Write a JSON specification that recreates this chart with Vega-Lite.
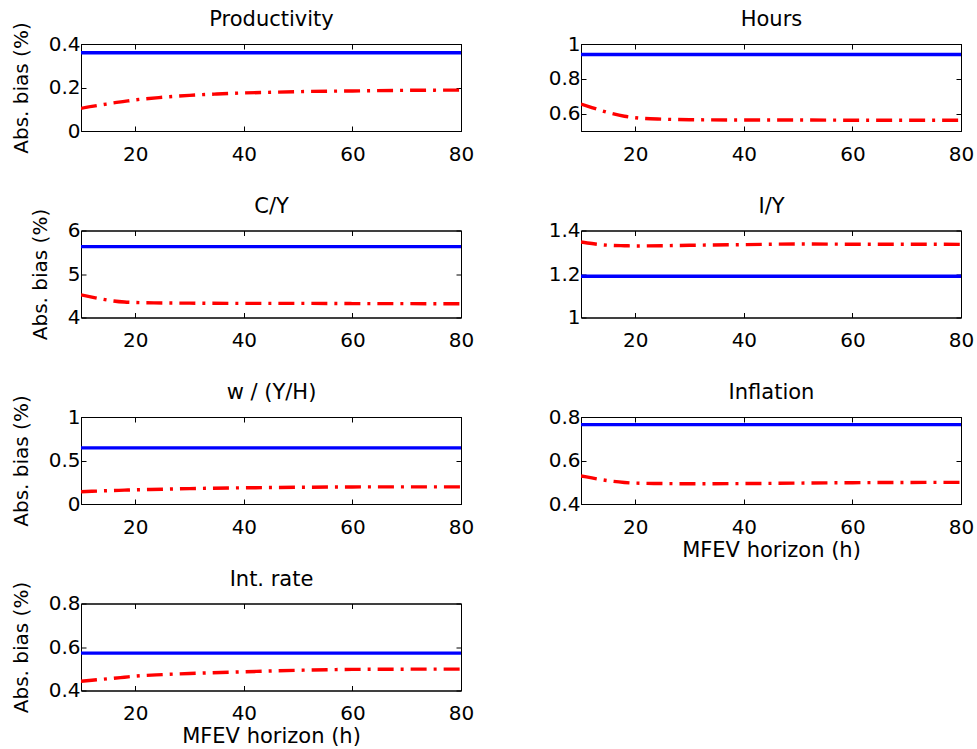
{
  "$schema": "https://vega.github.io/schema/vega-lite/v6.json",
  "background": "white",
  "padding": {"left": 10, "top": 8, "right": 5, "bottom": 5},
  "config": {
    "font": "DejaVu Sans",
    "view": {"stroke": "black", "strokeWidth": 1},
    "axis": {
      "grid": false,
      "labelFont": "DejaVu Sans",
      "labelFontSize": 20,
      "labelColor": "black",
      "titleFont": "DejaVu Sans",
      "titleFontSize": 21,
      "titleFontWeight": "normal",
      "titleColor": "black",
      "domainColor": "black",
      "tickColor": "black",
      "tickSize": -5,
      "labelPadding": 6,
      "labelFlush": false,
      "labelOverlap": false
    },
    "axisLeft": {"titleFontSize": 20, "titlePadding": 17},
    "axisTop": {"titlePadding": 14},
    "axisBottom": {"titlePadding": 2, "labelPadding": 18}
  },
  "data": {"values": [
    {"v": "Productivity", "m": "b", "h": 10, "bias": 0.36},
    {"v": "Productivity", "m": "b", "h": 80, "bias": 0.36},
    {"v": "Productivity", "m": "r", "h": 10, "bias": 0.104},
    {"v": "Productivity", "m": "r", "h": 12, "bias": 0.113},
    {"v": "Productivity", "m": "r", "h": 14, "bias": 0.121},
    {"v": "Productivity", "m": "r", "h": 16, "bias": 0.129},
    {"v": "Productivity", "m": "r", "h": 18, "bias": 0.136},
    {"v": "Productivity", "m": "r", "h": 20, "bias": 0.143},
    {"v": "Productivity", "m": "r", "h": 25, "bias": 0.155},
    {"v": "Productivity", "m": "r", "h": 30, "bias": 0.164},
    {"v": "Productivity", "m": "r", "h": 35, "bias": 0.17},
    {"v": "Productivity", "m": "r", "h": 40, "bias": 0.175},
    {"v": "Productivity", "m": "r", "h": 45, "bias": 0.178},
    {"v": "Productivity", "m": "r", "h": 50, "bias": 0.181},
    {"v": "Productivity", "m": "r", "h": 60, "bias": 0.184},
    {"v": "Productivity", "m": "r", "h": 70, "bias": 0.187},
    {"v": "Productivity", "m": "r", "h": 80, "bias": 0.188},
    {"v": "Hours", "m": "b", "h": 10, "bias": 0.94},
    {"v": "Hours", "m": "b", "h": 80, "bias": 0.94},
    {"v": "Hours", "m": "r", "h": 10, "bias": 0.655},
    {"v": "Hours", "m": "r", "h": 12, "bias": 0.635},
    {"v": "Hours", "m": "r", "h": 14, "bias": 0.615},
    {"v": "Hours", "m": "r", "h": 16, "bias": 0.598},
    {"v": "Hours", "m": "r", "h": 18, "bias": 0.585},
    {"v": "Hours", "m": "r", "h": 20, "bias": 0.576},
    {"v": "Hours", "m": "r", "h": 25, "bias": 0.568},
    {"v": "Hours", "m": "r", "h": 30, "bias": 0.565},
    {"v": "Hours", "m": "r", "h": 40, "bias": 0.563},
    {"v": "Hours", "m": "r", "h": 50, "bias": 0.563},
    {"v": "Hours", "m": "r", "h": 60, "bias": 0.562},
    {"v": "Hours", "m": "r", "h": 70, "bias": 0.562},
    {"v": "Hours", "m": "r", "h": 80, "bias": 0.562},
    {"v": "C/Y", "m": "b", "h": 10, "bias": 5.63},
    {"v": "C/Y", "m": "b", "h": 80, "bias": 5.63},
    {"v": "C/Y", "m": "r", "h": 10, "bias": 4.52},
    {"v": "C/Y", "m": "r", "h": 12, "bias": 4.47},
    {"v": "C/Y", "m": "r", "h": 14, "bias": 4.42},
    {"v": "C/Y", "m": "r", "h": 16, "bias": 4.38},
    {"v": "C/Y", "m": "r", "h": 18, "bias": 4.355},
    {"v": "C/Y", "m": "r", "h": 20, "bias": 4.345},
    {"v": "C/Y", "m": "r", "h": 25, "bias": 4.335},
    {"v": "C/Y", "m": "r", "h": 30, "bias": 4.33},
    {"v": "C/Y", "m": "r", "h": 40, "bias": 4.325},
    {"v": "C/Y", "m": "r", "h": 50, "bias": 4.325},
    {"v": "C/Y", "m": "r", "h": 60, "bias": 4.32},
    {"v": "C/Y", "m": "r", "h": 70, "bias": 4.318},
    {"v": "C/Y", "m": "r", "h": 80, "bias": 4.315},
    {"v": "I/Y", "m": "b", "h": 10, "bias": 1.19},
    {"v": "I/Y", "m": "b", "h": 80, "bias": 1.19},
    {"v": "I/Y", "m": "r", "h": 10, "bias": 1.347},
    {"v": "I/Y", "m": "r", "h": 12, "bias": 1.34},
    {"v": "I/Y", "m": "r", "h": 14, "bias": 1.334},
    {"v": "I/Y", "m": "r", "h": 16, "bias": 1.331},
    {"v": "I/Y", "m": "r", "h": 18, "bias": 1.33},
    {"v": "I/Y", "m": "r", "h": 20, "bias": 1.329},
    {"v": "I/Y", "m": "r", "h": 25, "bias": 1.33},
    {"v": "I/Y", "m": "r", "h": 30, "bias": 1.332},
    {"v": "I/Y", "m": "r", "h": 40, "bias": 1.335},
    {"v": "I/Y", "m": "r", "h": 50, "bias": 1.338},
    {"v": "I/Y", "m": "r", "h": 60, "bias": 1.337},
    {"v": "I/Y", "m": "r", "h": 70, "bias": 1.337},
    {"v": "I/Y", "m": "r", "h": 80, "bias": 1.336},
    {"v": "w / (Y/H)", "m": "b", "h": 10, "bias": 0.645},
    {"v": "w / (Y/H)", "m": "b", "h": 80, "bias": 0.645},
    {"v": "w / (Y/H)", "m": "r", "h": 10, "bias": 0.14},
    {"v": "w / (Y/H)", "m": "r", "h": 12, "bias": 0.146},
    {"v": "w / (Y/H)", "m": "r", "h": 14, "bias": 0.151},
    {"v": "w / (Y/H)", "m": "r", "h": 16, "bias": 0.155},
    {"v": "w / (Y/H)", "m": "r", "h": 18, "bias": 0.159},
    {"v": "w / (Y/H)", "m": "r", "h": 20, "bias": 0.163},
    {"v": "w / (Y/H)", "m": "r", "h": 25, "bias": 0.17},
    {"v": "w / (Y/H)", "m": "r", "h": 30, "bias": 0.177},
    {"v": "w / (Y/H)", "m": "r", "h": 40, "bias": 0.186},
    {"v": "w / (Y/H)", "m": "r", "h": 50, "bias": 0.192},
    {"v": "w / (Y/H)", "m": "r", "h": 60, "bias": 0.196},
    {"v": "w / (Y/H)", "m": "r", "h": 70, "bias": 0.197},
    {"v": "w / (Y/H)", "m": "r", "h": 80, "bias": 0.197},
    {"v": "Inflation", "m": "b", "h": 10, "bias": 0.765},
    {"v": "Inflation", "m": "b", "h": 80, "bias": 0.765},
    {"v": "Inflation", "m": "r", "h": 10, "bias": 0.529},
    {"v": "Inflation", "m": "r", "h": 12, "bias": 0.52},
    {"v": "Inflation", "m": "r", "h": 14, "bias": 0.511},
    {"v": "Inflation", "m": "r", "h": 16, "bias": 0.504},
    {"v": "Inflation", "m": "r", "h": 18, "bias": 0.499},
    {"v": "Inflation", "m": "r", "h": 20, "bias": 0.496},
    {"v": "Inflation", "m": "r", "h": 25, "bias": 0.494},
    {"v": "Inflation", "m": "r", "h": 30, "bias": 0.493},
    {"v": "Inflation", "m": "r", "h": 40, "bias": 0.494},
    {"v": "Inflation", "m": "r", "h": 50, "bias": 0.496},
    {"v": "Inflation", "m": "r", "h": 60, "bias": 0.498},
    {"v": "Inflation", "m": "r", "h": 70, "bias": 0.499},
    {"v": "Inflation", "m": "r", "h": 80, "bias": 0.4995},
    {"v": "Int. rate", "m": "b", "h": 10, "bias": 0.572},
    {"v": "Int. rate", "m": "b", "h": 80, "bias": 0.572},
    {"v": "Int. rate", "m": "r", "h": 10, "bias": 0.4425},
    {"v": "Int. rate", "m": "r", "h": 12, "bias": 0.447},
    {"v": "Int. rate", "m": "r", "h": 14, "bias": 0.452},
    {"v": "Int. rate", "m": "r", "h": 16, "bias": 0.456},
    {"v": "Int. rate", "m": "r", "h": 18, "bias": 0.461},
    {"v": "Int. rate", "m": "r", "h": 20, "bias": 0.466},
    {"v": "Int. rate", "m": "r", "h": 25, "bias": 0.473},
    {"v": "Int. rate", "m": "r", "h": 30, "bias": 0.478},
    {"v": "Int. rate", "m": "r", "h": 40, "bias": 0.486},
    {"v": "Int. rate", "m": "r", "h": 50, "bias": 0.493},
    {"v": "Int. rate", "m": "r", "h": 60, "bias": 0.497},
    {"v": "Int. rate", "m": "r", "h": 70, "bias": 0.498},
    {"v": "Int. rate", "m": "r", "h": 80, "bias": 0.4985}
  ]},
  "columns": 2,
  "bounds": "flush",
  "spacing": {"row": 99.5, "column": 120},
  "concat": [
    {
      "width": 380, "height": 87,
      "transform": [{"filter": "datum.v === 'Productivity'"}],
      "layer": [
        {"transform": [{"filter": "datum.m === 'b'"}], "mark": {"type": "line", "color": "#0000ff", "strokeWidth": 3.4, "clip": true},
         "encoding": {"x": {"field": "h", "type": "quantitative", "scale": {"domain": [10, 80]}, "axis": {"orient": "bottom", "values": [20, 40, 60, 80], "title": null}},
                      "y": {"field": "bias", "type": "quantitative", "scale": {"domain": [0, 0.4]}, "axis": {"orient": "left", "values": [0, 0.2, 0.4], "format": "~g", "title": "Abs. bias (%)"}}}},
        {"transform": [{"filter": "datum.m === 'r'"}], "mark": {"type": "line", "color": "#ff0000", "strokeWidth": 3.4, "strokeDash": [16, 7, 3, 7], "interpolate": "monotone", "clip": true},
         "encoding": {"x": {"field": "h", "type": "quantitative", "axis": {"orient": "top", "values": [20, 40, 60, 80], "labels": false, "title": "Productivity"}},
                      "y": {"field": "bias", "type": "quantitative", "axis": {"orient": "right", "values": [0, 0.2, 0.4], "labels": false, "title": null}}}}
      ],
      "resolve": {"axis": {"x": "independent", "y": "independent"}}
    },
    {
      "width": 380, "height": 87,
      "transform": [{"filter": "datum.v === 'Hours'"}],
      "layer": [
        {"transform": [{"filter": "datum.m === 'b'"}], "mark": {"type": "line", "color": "#0000ff", "strokeWidth": 3.4, "clip": true},
         "encoding": {"x": {"field": "h", "type": "quantitative", "scale": {"domain": [10, 80]}, "axis": {"orient": "bottom", "values": [20, 40, 60, 80], "title": null}},
                      "y": {"field": "bias", "type": "quantitative", "scale": {"domain": [0.5, 1]}, "axis": {"orient": "left", "values": [0.6, 0.8, 1], "format": "~g", "title": null}}}},
        {"transform": [{"filter": "datum.m === 'r'"}], "mark": {"type": "line", "color": "#ff0000", "strokeWidth": 3.4, "strokeDash": [16, 7, 3, 7], "interpolate": "monotone", "clip": true},
         "encoding": {"x": {"field": "h", "type": "quantitative", "axis": {"orient": "top", "values": [20, 40, 60, 80], "labels": false, "title": "Hours"}},
                      "y": {"field": "bias", "type": "quantitative", "axis": {"orient": "right", "values": [0.6, 0.8, 1], "labels": false, "title": null}}}}
      ],
      "resolve": {"axis": {"x": "independent", "y": "independent"}}
    },
    {
      "width": 380, "height": 87,
      "transform": [{"filter": "datum.v === 'C/Y'"}],
      "layer": [
        {"transform": [{"filter": "datum.m === 'b'"}], "mark": {"type": "line", "color": "#0000ff", "strokeWidth": 3.4, "clip": true},
         "encoding": {"x": {"field": "h", "type": "quantitative", "scale": {"domain": [10, 80]}, "axis": {"orient": "bottom", "values": [20, 40, 60, 80], "title": null}},
                      "y": {"field": "bias", "type": "quantitative", "scale": {"domain": [4, 6]}, "axis": {"orient": "left", "values": [4, 5, 6], "format": "~g", "title": "Abs. bias (%)"}}}},
        {"transform": [{"filter": "datum.m === 'r'"}], "mark": {"type": "line", "color": "#ff0000", "strokeWidth": 3.4, "strokeDash": [16, 7, 3, 7], "interpolate": "monotone", "clip": true},
         "encoding": {"x": {"field": "h", "type": "quantitative", "axis": {"orient": "top", "values": [20, 40, 60, 80], "labels": false, "title": "C/Y"}},
                      "y": {"field": "bias", "type": "quantitative", "axis": {"orient": "right", "values": [4, 5, 6], "labels": false, "title": null}}}}
      ],
      "resolve": {"axis": {"x": "independent", "y": "independent"}}
    },
    {
      "width": 380, "height": 87,
      "transform": [{"filter": "datum.v === 'I/Y'"}],
      "layer": [
        {"transform": [{"filter": "datum.m === 'b'"}], "mark": {"type": "line", "color": "#0000ff", "strokeWidth": 3.4, "clip": true},
         "encoding": {"x": {"field": "h", "type": "quantitative", "scale": {"domain": [10, 80]}, "axis": {"orient": "bottom", "values": [20, 40, 60, 80], "title": null}},
                      "y": {"field": "bias", "type": "quantitative", "scale": {"domain": [1, 1.4]}, "axis": {"orient": "left", "values": [1, 1.2, 1.4], "format": "~g", "title": null}}}},
        {"transform": [{"filter": "datum.m === 'r'"}], "mark": {"type": "line", "color": "#ff0000", "strokeWidth": 3.4, "strokeDash": [16, 7, 3, 7], "interpolate": "monotone", "clip": true},
         "encoding": {"x": {"field": "h", "type": "quantitative", "axis": {"orient": "top", "values": [20, 40, 60, 80], "labels": false, "title": "I/Y"}},
                      "y": {"field": "bias", "type": "quantitative", "axis": {"orient": "right", "values": [1, 1.2, 1.4], "labels": false, "title": null}}}}
      ],
      "resolve": {"axis": {"x": "independent", "y": "independent"}}
    },
    {
      "width": 380, "height": 87,
      "transform": [{"filter": "datum.v === 'w / (Y/H)'"}],
      "layer": [
        {"transform": [{"filter": "datum.m === 'b'"}], "mark": {"type": "line", "color": "#0000ff", "strokeWidth": 3.4, "clip": true},
         "encoding": {"x": {"field": "h", "type": "quantitative", "scale": {"domain": [10, 80]}, "axis": {"orient": "bottom", "values": [20, 40, 60, 80], "title": null}},
                      "y": {"field": "bias", "type": "quantitative", "scale": {"domain": [0, 1]}, "axis": {"orient": "left", "values": [0, 0.5, 1], "format": "~g", "title": "Abs. bias (%)"}}}},
        {"transform": [{"filter": "datum.m === 'r'"}], "mark": {"type": "line", "color": "#ff0000", "strokeWidth": 3.4, "strokeDash": [16, 7, 3, 7], "interpolate": "monotone", "clip": true},
         "encoding": {"x": {"field": "h", "type": "quantitative", "axis": {"orient": "top", "values": [20, 40, 60, 80], "labels": false, "title": "w / (Y/H)"}},
                      "y": {"field": "bias", "type": "quantitative", "axis": {"orient": "right", "values": [0, 0.5, 1], "labels": false, "title": null}}}}
      ],
      "resolve": {"axis": {"x": "independent", "y": "independent"}}
    },
    {
      "width": 380, "height": 87,
      "transform": [{"filter": "datum.v === 'Inflation'"}],
      "layer": [
        {"transform": [{"filter": "datum.m === 'b'"}], "mark": {"type": "line", "color": "#0000ff", "strokeWidth": 3.4, "clip": true},
         "encoding": {"x": {"field": "h", "type": "quantitative", "scale": {"domain": [10, 80]}, "axis": {"orient": "bottom", "values": [20, 40, 60, 80], "title": "MFEV horizon (h)"}},
                      "y": {"field": "bias", "type": "quantitative", "scale": {"domain": [0.4, 0.8]}, "axis": {"orient": "left", "values": [0.4, 0.6, 0.8], "format": "~g", "title": null}}}},
        {"transform": [{"filter": "datum.m === 'r'"}], "mark": {"type": "line", "color": "#ff0000", "strokeWidth": 3.4, "strokeDash": [16, 7, 3, 7], "interpolate": "monotone", "clip": true},
         "encoding": {"x": {"field": "h", "type": "quantitative", "axis": {"orient": "top", "values": [20, 40, 60, 80], "labels": false, "title": "Inflation"}},
                      "y": {"field": "bias", "type": "quantitative", "axis": {"orient": "right", "values": [0.4, 0.6, 0.8], "labels": false, "title": null}}}}
      ],
      "resolve": {"axis": {"x": "independent", "y": "independent"}}
    },
    {
      "width": 380, "height": 87,
      "transform": [{"filter": "datum.v === 'Int. rate'"}],
      "layer": [
        {"transform": [{"filter": "datum.m === 'b'"}], "mark": {"type": "line", "color": "#0000ff", "strokeWidth": 3.4, "clip": true},
         "encoding": {"x": {"field": "h", "type": "quantitative", "scale": {"domain": [10, 80]}, "axis": {"orient": "bottom", "values": [20, 40, 60, 80], "title": "MFEV horizon (h)"}},
                      "y": {"field": "bias", "type": "quantitative", "scale": {"domain": [0.4, 0.8]}, "axis": {"orient": "left", "values": [0.4, 0.6, 0.8], "format": "~g", "title": "Abs. bias (%)"}}}},
        {"transform": [{"filter": "datum.m === 'r'"}], "mark": {"type": "line", "color": "#ff0000", "strokeWidth": 3.4, "strokeDash": [16, 7, 3, 7], "interpolate": "monotone", "clip": true},
         "encoding": {"x": {"field": "h", "type": "quantitative", "axis": {"orient": "top", "values": [20, 40, 60, 80], "labels": false, "title": "Int. rate"}},
                      "y": {"field": "bias", "type": "quantitative", "axis": {"orient": "right", "values": [0.4, 0.6, 0.8], "labels": false, "title": null}}}}
      ],
      "resolve": {"axis": {"x": "independent", "y": "independent"}}
    }
  ]
}
